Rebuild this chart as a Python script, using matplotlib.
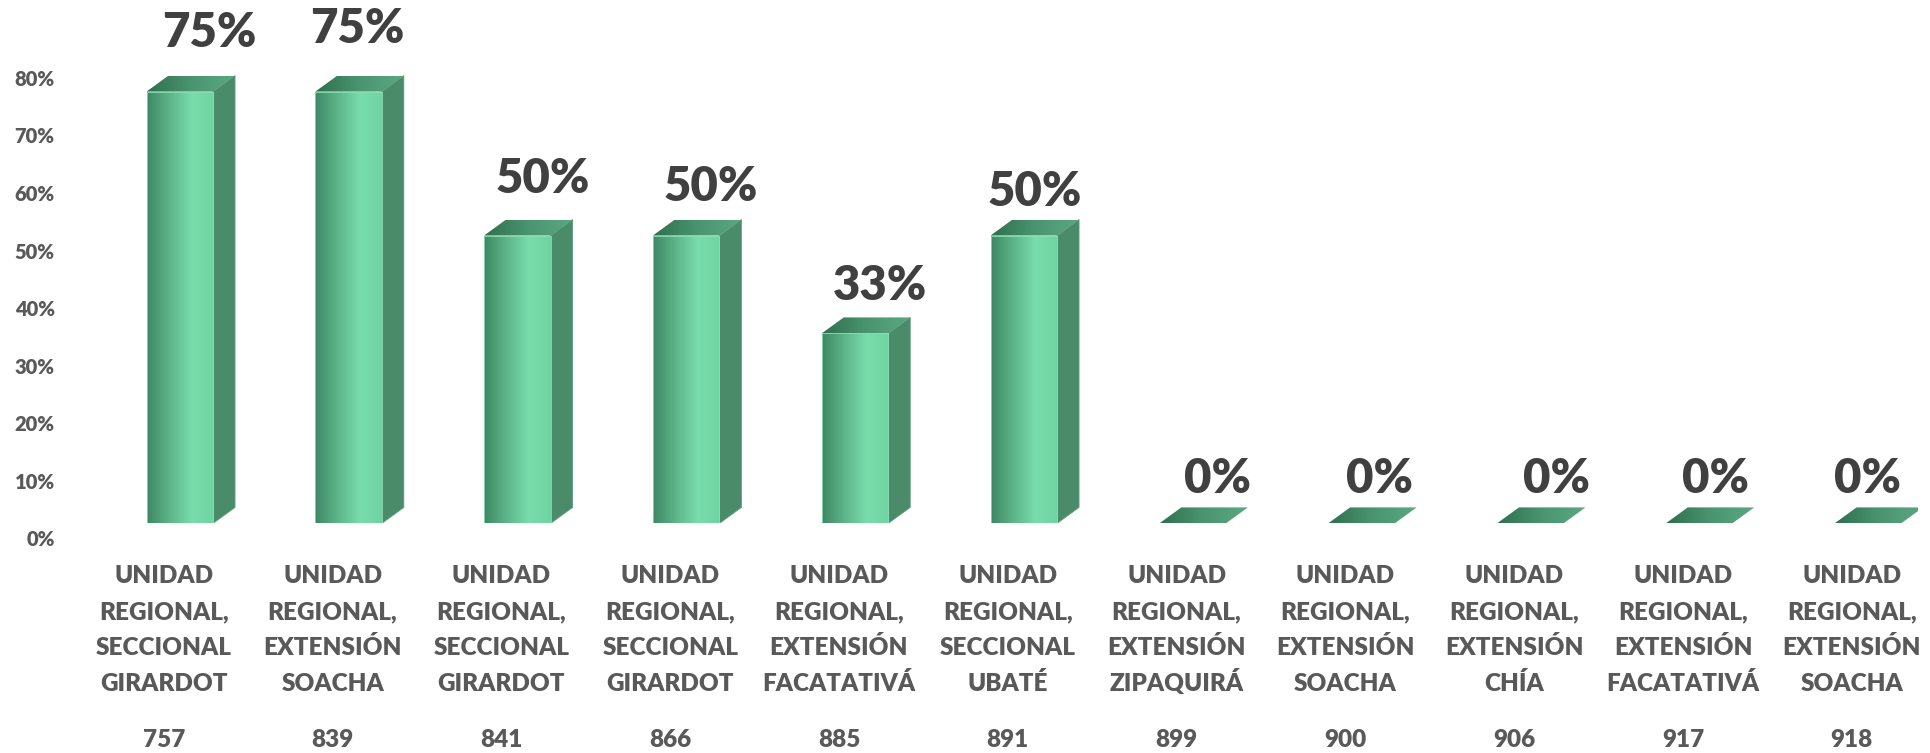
import numpy as np
import matplotlib
matplotlib.use("Agg")
import matplotlib.pyplot as plt
from matplotlib.colors import LinearSegmentedColormap
from matplotlib.patches import Polygon, Rectangle
from matplotlib.transforms import ScaledTranslation, blended_transform_factory

plt.rcParams['font.family'] = ['Lato', 'DejaVu Sans']

# datos
codigos = ["757", "839", "841", "866", "885", "891", "899", "900", "906", "917", "918"]
sedes = [
    "UNIDAD\nREGIONAL,\nSECCIONAL\nGIRARDOT",
    "UNIDAD\nREGIONAL,\nEXTENSIÓN\nSOACHA",
    "UNIDAD\nREGIONAL,\nSECCIONAL\nGIRARDOT",
    "UNIDAD\nREGIONAL,\nSECCIONAL\nGIRARDOT",
    "UNIDAD\nREGIONAL,\nEXTENSIÓN\nFACATATIVÁ",
    "UNIDAD\nREGIONAL,\nSECCIONAL\nUBATÉ",
    "UNIDAD\nREGIONAL,\nEXTENSIÓN\nZIPAQUIRÁ",
    "UNIDAD\nREGIONAL,\nEXTENSIÓN\nSOACHA",
    "UNIDAD\nREGIONAL,\nEXTENSIÓN\nCHÍA",
    "UNIDAD\nREGIONAL,\nEXTENSIÓN\nFACATATIVÁ",
    "UNIDAD\nREGIONAL,\nEXTENSIÓN\nSOACHA",
]
porcentajes = [0.75, 0.75, 0.50, 0.50, 0.33, 0.50, 0.0, 0.0, 0.0, 0.0, 0.0]
ticks_y = [0, 0.1, 0.2, 0.3, 0.4, 0.5, 0.6, 0.7, 0.8]

# pequeños ajustes de las etiquetas (pixeles), como en el original
ajuste_etiquetas = [(30, 59), (9, 63), (25, 57), (25, 49), (25, 47), (11, 44),
                    (25, 44), (18, 44), (26, 44), (16, 44), (0, 44)]

gris = "#595959"
gris_osc = "#404040"
peso = "heavy"
cmap_frente = LinearSegmentedColormap.from_list(
    "frente", ["#3e8864", "#5db488", "#78dcab", "#70d3a2"])
cmap_techo = LinearSegmentedColormap.from_list("techo", ["#2f6f4e", "#4a9570", "#5aa882"])
color_lado = "#4a8b6a"

fig = plt.figure(figsize=(19.31, 7.53), dpi=100)
ax = fig.add_axes([0.0319, 0.3049, 0.9616, 0.6117])

xmin, xmax = -0.7, 10.3
ymin, ymax = 0, 0.8
ancho = 0.394
# profundidad 3D en unidades de datos (22 px, 16 px)
ax_w = 0.9616 * 1931
ax_h = 0.6117 * 753
px_x = ax_w / (xmax - xmin)
px_y = ax_h / (ymax - ymin)
dx = 22 / px_x
dy = 16 / px_y

grad = np.linspace(0, 1, 256).reshape(1, -1)

x = np.arange(len(porcentajes))
for i, v in zip(x, porcentajes):
    xl = i - ancho / 2
    xr = i + ancho / 2
    # techo
    techo = Polygon([(xl, v), (xr, v), (xr + dx, v + dy), (xl + dx, v + dy)],
                    closed=True, facecolor="none", edgecolor="none")
    ax.add_patch(techo)
    im = ax.imshow(grad, cmap=cmap_techo, aspect="auto",
                   extent=(xl, xr + dx, v, v + dy), zorder=2)
    im.set_clip_path(techo)
    if v > 0:
        # lado
        lado = Polygon([(xr, 0), (xr + dx, dy), (xr + dx, v + dy), (xr, v)],
                       closed=True, facecolor=color_lado, edgecolor="#5d9f7e",
                       linewidth=0.6, zorder=2)
        ax.add_patch(lado)
        # frente
        frente = Rectangle((xl, 0), ancho, v, facecolor="none",
                           edgecolor="#8fdcb5", linewidth=0.6, zorder=4)
        ax.add_patch(frente)
        im2 = ax.imshow(grad, cmap=cmap_frente, aspect="auto",
                        extent=(xl, xr, 0, v), zorder=3)
        im2.set_clip_path(frente)

for i, (v, (ox, oy)) in enumerate(zip(porcentajes, ajuste_etiquetas)):
    ax.annotate(f"{v:.0%}", xy=(i, v), xytext=(ox, oy), textcoords="offset pixels",
                ha="center", va="center", fontsize=34, fontweight=peso,
                color=gris_osc, annotation_clip=False)

ax.set_xlim(xmin, xmax)
ax.set_ylim(ymin, ymax)
ax.set_xticks([])
ax.set_yticks(ticks_y)
ax.set_yticklabels([f"{t:.0%}" for t in ticks_y], fontsize=14.5,
                   fontweight=peso, color=gris)
ax.tick_params(axis="y", length=0, pad=5)
bajar = ScaledTranslation(0, -0.15, fig.dpi_scale_trans)
for lab in ax.get_yticklabels():
    lab.set_transform(lab.get_transform() + bajar)
for s in ax.spines.values():
    s.set_visible(False)

# etiquetas de categoría, una línea a la vez
trans = blended_transform_factory(ax.transData, fig.transFigure) + \
    ScaledTranslation(-0.16, 0, fig.dpi_scale_trans)
lineas_y = [0.2251, 0.1773, 0.1295, 0.0830]
for i, (s, c) in enumerate(zip(sedes, codigos)):
    for yy, linea in zip(lineas_y, s.split("\n")):
        ax.text(i, yy, linea, transform=trans, ha="center", va="baseline",
                fontsize=17.5, fontweight=peso, color=gris)
    ax.text(i, 0.0075, c, transform=trans, ha="center", va="baseline",
            fontsize=17.5, fontweight=peso, color=gris)

fig.savefig("out.png", dpi=100)
